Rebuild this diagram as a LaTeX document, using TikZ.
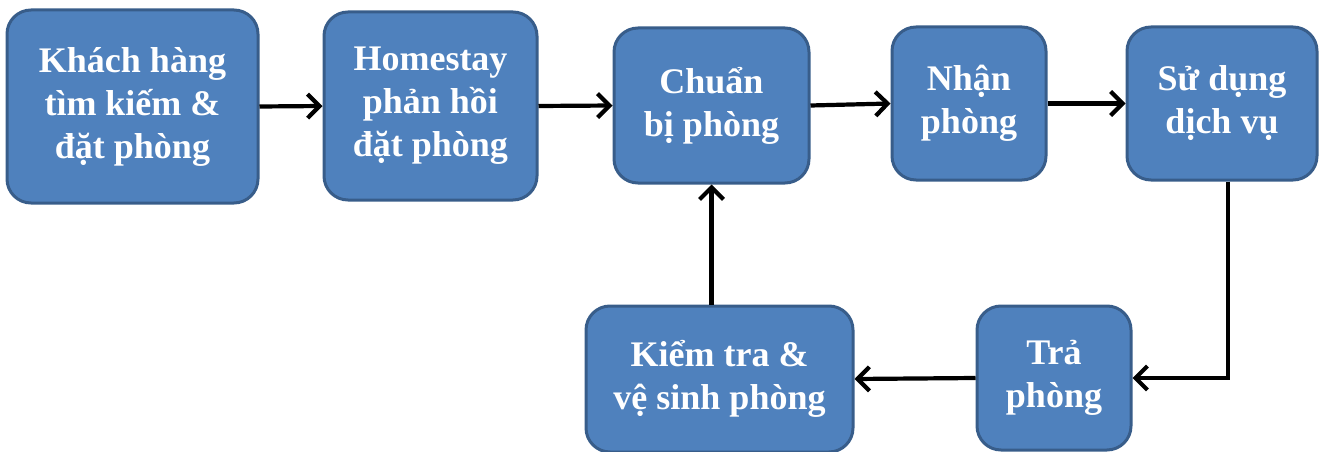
\documentclass[tikz,border=0pt]{standalone}
\usepackage{fontspec}
\setmainfont{Liberation Serif}
\usetikzlibrary{arrows.meta}
\definecolor{boxfill}{RGB}{79,129,189}
\definecolor{boxedge}{RGB}{56,93,138}
\tikzset{
  stepbox/.style={draw=boxedge, line width=3pt, fill=boxfill, rounded corners=24pt,
    text=white, align=center, inner sep=0pt,
    font=\bfseries\fontsize{36}{43}\selectfont},
  flow/.style={line width=4.2pt, draw=black, -{Straight Barb[length=12pt,width=24pt,line width=4.2pt]}}
}
\begin{document}
\begin{tikzpicture}[x=1pt,y=-1pt]
\useasboundingbox (0,0) rectangle (1320,452);
\node[stepbox, minimum width=251pt, minimum height=193pt] (b1) at (132.5,106.5) {Khách hàng\\tìm kiếm \&\\đặt phòng};
\node[stepbox, minimum width=213pt, minimum height=188pt] (b2) at (430.5,106) {Homestay\\phản hồi\\đặt phòng};
\node[stepbox, minimum width=195pt, minimum height=155pt] (b3) at (711.5,105.5) {Chuẩn\\bị phòng};
\node[stepbox, minimum width=154pt, minimum height=153pt] (b4) at (969,103.5) {Nhận\\phòng};
\node[stepbox, minimum width=190pt, minimum height=153pt] (b5) at (1222,103.5) {Sử dụng\\dịch vụ};
\node[stepbox, minimum width=154pt, minimum height=144pt] (b6) at (1054,378) {Trả\\phòng};
\node[stepbox, minimum width=267pt, minimum height=146pt] (b7) at (719.5,379) {Kiểm tra \&\\vệ sinh phòng};
\draw[flow] (b1.east) -- (b2.west);
\draw[flow] (b2.east) -- (b3.west);
\draw[flow] (b3.east) -- (b4.west);
\draw[flow] (b4.east) -- (b5.west);
\draw[flow] ([xshift=6pt]b5.south) |- (b6.east);
\draw[flow] (b6.west) -- (b7.east);
\draw[flow] (b7.north -| b3.south) -- (b3.south);
\end{tikzpicture}
\end{document}
